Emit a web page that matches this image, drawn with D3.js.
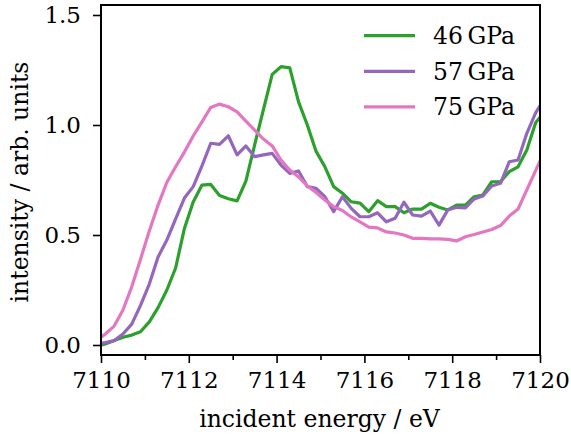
<!DOCTYPE html>
<html>
<head>
<meta charset="utf-8">
<script src="https://cdn.jsdelivr.net/npm/d3@7"></script>
<style>
  html, body { margin: 0; padding: 0; background: #fff; }
  svg { display: block; }
  text { font-family: "DejaVu Serif", serif; fill: #000; }
</style>
</head>
<body>
<svg id="chart" width="571" height="437"></svg>
<script>
// Incident energy grid (eV)
const energy = [
  7109.9, 7110.1, 7110.3, 7110.5, 7110.7, 7110.9, 7111.1, 7111.3, 7111.5, 7111.7,
  7111.9, 7112.1, 7112.3, 7112.5, 7112.7, 7112.9, 7113.1, 7113.3, 7113.5, 7113.7,
  7113.9, 7114.1, 7114.3, 7114.5, 7114.7, 7114.9, 7115.1, 7115.3, 7115.5, 7115.7,
  7115.9, 7116.1, 7116.3, 7116.5, 7116.7, 7116.9, 7117.1, 7117.3, 7117.5, 7117.7,
  7117.9, 7118.1, 7118.3, 7118.5, 7118.7, 7118.9, 7119.1, 7119.3, 7119.5, 7119.7,
  7119.9, 7120.1
];

// Intensity (arb. units) at each pressure
const p46 = [
  -0.005, 0.005, 0.02, 0.035, 0.045, 0.06, 0.105, 0.17, 0.25, 0.35,
  0.53, 0.65, 0.727, 0.73, 0.68, 0.665, 0.655, 0.745, 0.91, 1.07,
  1.23, 1.265, 1.26, 1.105, 1.0, 0.88, 0.81, 0.72, 0.69, 0.651,
  0.645, 0.606, 0.656, 0.629, 0.629, 0.601, 0.618, 0.618, 0.644, 0.626,
  0.614, 0.636, 0.636, 0.674, 0.682, 0.742, 0.742, 0.788, 0.81, 0.886,
  1.01, 1.06
];
const p57 = [
  0.005, 0.011, 0.02, 0.05, 0.095, 0.18, 0.277, 0.40, 0.477, 0.573,
  0.668, 0.72, 0.814, 0.917, 0.912, 0.951, 0.864, 0.905, 0.856, 0.864,
  0.871, 0.818, 0.78, 0.791, 0.72, 0.712, 0.674, 0.606, 0.674, 0.621,
  0.583, 0.583, 0.601, 0.56, 0.576, 0.649, 0.591, 0.586, 0.609, 0.545,
  0.614, 0.626, 0.623, 0.664, 0.677, 0.723, 0.735, 0.833, 0.841, 0.962,
  1.055, 1.12
];
const p75 = [
  0.02, 0.05, 0.086, 0.159, 0.265, 0.39, 0.518, 0.636, 0.74, 0.81,
  0.877, 0.95, 1.014, 1.08, 1.095, 1.083, 1.06, 1.018, 0.977, 0.936,
  0.905, 0.841, 0.795, 0.764, 0.723, 0.693, 0.659, 0.629, 0.611, 0.582,
  0.56, 0.536, 0.532, 0.514, 0.509, 0.5, 0.485, 0.485, 0.482, 0.482,
  0.48, 0.473, 0.492, 0.502, 0.514, 0.525, 0.543, 0.586, 0.618, 0.705,
  0.793, 0.88
];

const seriesNames = ["46\u2009GPa", "57\u2009GPa", "75\u2009GPa"];
const seriesColors = ["#2ca02c", "#9467bd", "#e377c2"];
const seriesValues = [p46, p57, p75];

const xTicks = [7110, 7112, 7114, 7116, 7118, 7120];
const xMinorTicks = [7111, 7113, 7115, 7117, 7119];
const yTicks = [0.0, 0.5, 1.0, 1.5];

const svg = d3.select("#chart");
const m = { left: 101, right: 540, top: 5, bottom: 355 };

const x = d3.scaleLinear().domain([7110, 7120]).range([m.left, m.right]);
const y = d3.scaleLinear().domain([-0.04545, 1.54545]).range([m.bottom, m.top]);

svg.append("defs").append("clipPath").attr("id", "plotclip")
  .append("rect").attr("x", m.left).attr("y", m.top)
  .attr("width", m.right - m.left).attr("height", m.bottom - m.top);

// Curves
const line = d3.line().x(d => x(d[0])).y(d => y(d[1]));
const plot = svg.append("g").attr("clip-path", "url(#plotclip)");
seriesValues.forEach((vals, i) => {
  plot.append("path")
    .datum(energy.map((e, j) => [e, vals[j]]))
    .attr("d", line)
    .attr("fill", "none")
    .attr("stroke", seriesColors[i])
    .attr("stroke-width", 3.2)
    .attr("stroke-linejoin", "round")
    .attr("stroke-linecap", "square");
});

// Axes
const tickFont = 23;
const labelFont = 23.5;
const xAxis = svg.append("g").attr("transform", `translate(0,${m.bottom})`)
  .call(d3.axisBottom(x).tickValues(xTicks).tickFormat(d3.format("d"))
    .tickSize(8).tickPadding(9));
const xMinor = svg.append("g").attr("transform", `translate(0,${m.bottom})`)
  .call(d3.axisBottom(x).tickValues(xMinorTicks).tickFormat("").tickSize(5));
const yAxis = svg.append("g").attr("transform", `translate(${m.left},0)`)
  .call(d3.axisLeft(y).tickValues(yTicks).tickFormat(d3.format(".1f"))
    .tickSize(8).tickPadding(12));

[xAxis, xMinor, yAxis].forEach(g => {
  g.select(".domain").remove();
  g.selectAll(".tick line").attr("stroke", "#000").attr("stroke-width", 1.6);
  g.selectAll(".tick text").style("font-family", "DejaVu Serif")
    .style("font-size", tickFont + "px").attr("fill", "#000");
});

// Frame
svg.append("rect")
  .attr("x", m.left).attr("y", m.top)
  .attr("width", m.right - m.left).attr("height", m.bottom - m.top)
  .attr("fill", "none").attr("stroke", "#000").attr("stroke-width", 2);

// Axis titles
svg.append("text")
  .attr("x", (m.left + m.right) / 2 - 1).attr("y", 427)
  .attr("text-anchor", "middle")
  .style("font-size", labelFont + "px")
  .text("incident energy / eV");

svg.append("text")
  .attr("transform", `translate(28,${(m.top + m.bottom) / 2 + 2}) rotate(-90)`)
  .attr("text-anchor", "middle")
  .style("font-size", labelFont + "px")
  .text("intensity / arb. units");

// Legend
const legend = svg.append("g");
seriesNames.forEach((name, i) => {
  const ly = 35.7 + i * 35.6;
  legend.append("line")
    .attr("x1", 364).attr("x2", 415)
    .attr("y1", ly).attr("y2", ly)
    .attr("stroke", seriesColors[i]).attr("stroke-width", 3.2);
  legend.append("text")
    .attr("x", 433).attr("y", ly)
    .attr("dy", "0.36em")
    .style("font-size", labelFont + "px")
    .text(name);
});
</script>
</body>
</html>
